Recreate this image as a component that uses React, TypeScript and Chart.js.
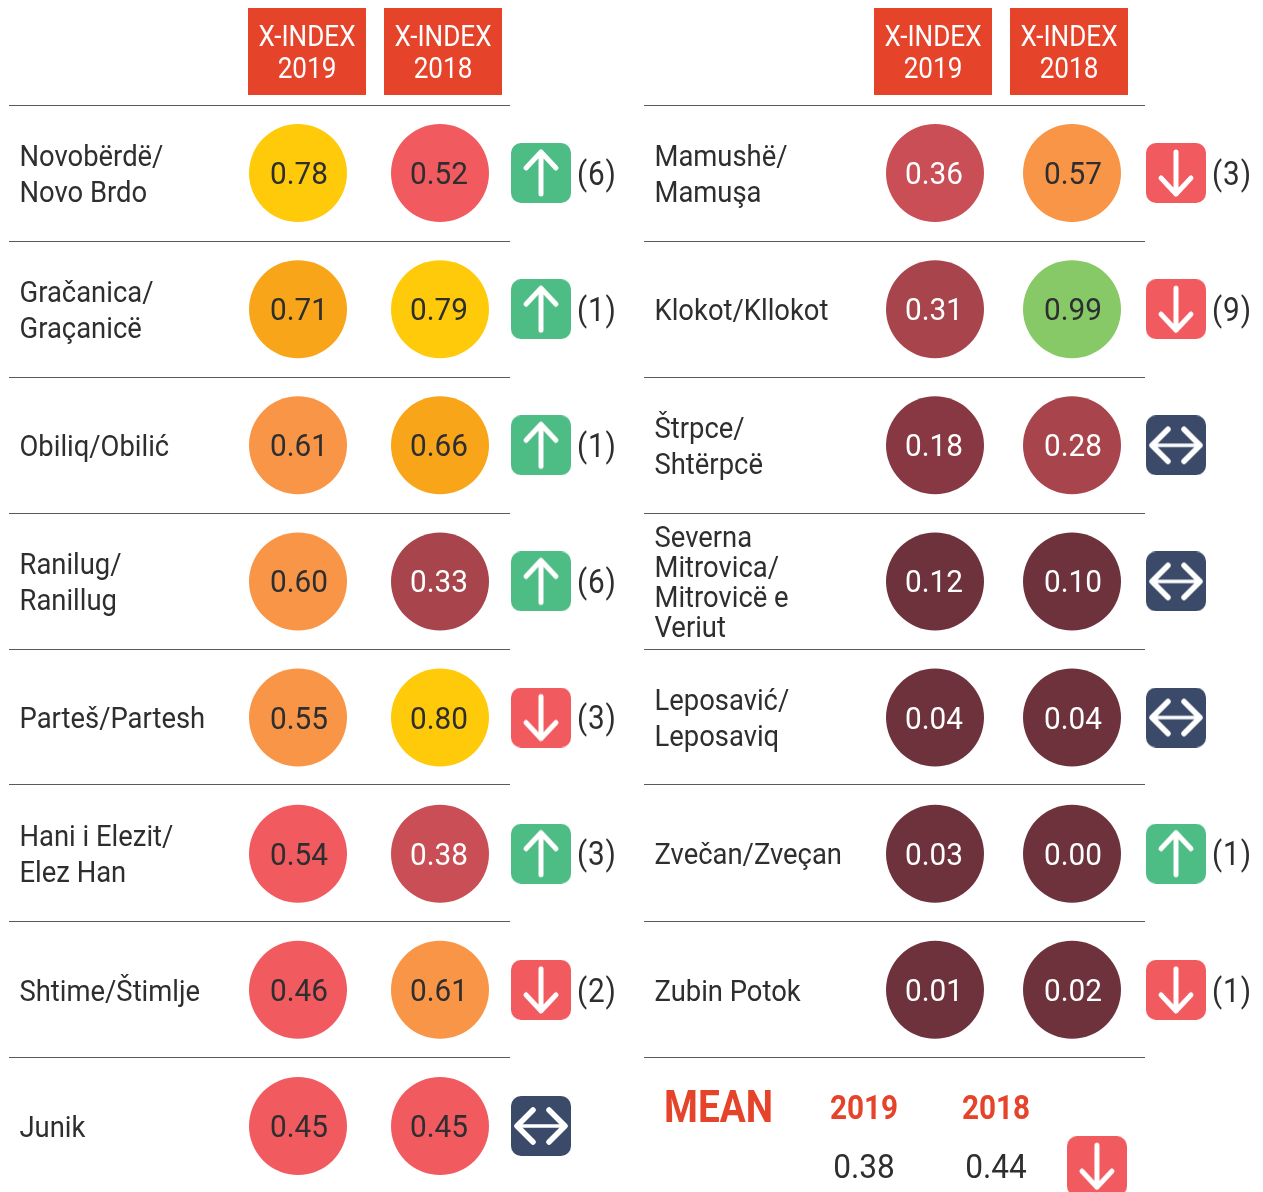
import React, { useEffect, useRef } from "react";
import { Chart, registerables } from "chart.js";

Chart.register(...registerables);

type Trend = "up" | "down" | "same";

const leftNames = [
  ["Novobërdë/", "Novo Brdo"],
  ["Gračanica/", "Graçanicë"],
  ["Obiliq/Obilić"],
  ["Ranilug/", "Ranillug"],
  ["Parteš/Partesh"],
  ["Hani i Elezit/", "Elez Han"],
  ["Shtime/Štimlje"],
  ["Junik"],
];
const left2019 = [0.78, 0.71, 0.61, 0.6, 0.55, 0.54, 0.46, 0.45];
const left2018 = [0.52, 0.79, 0.66, 0.33, 0.8, 0.38, 0.61, 0.45];
const leftTrend: Trend[] = ["up", "up", "up", "up", "down", "up", "down", "same"];
const leftRankChange = [6, 1, 1, 6, 3, 3, 2, null];

const rightNames = [
  ["Mamushë/", "Mamuşa"],
  ["Klokot/Kllokot"],
  ["Štrpce/", "Shtërpcë"],
  ["Severna", "Mitrovica/", "Mitrovicë e", "Veriut"],
  ["Leposavić/", "Leposaviq"],
  ["Zvečan/Zveçan"],
  ["Zubin Potok"],
];
const right2019 = [0.36, 0.31, 0.18, 0.12, 0.04, 0.03, 0.01];
const right2018 = [0.57, 0.99, 0.28, 0.1, 0.04, 0.0, 0.02];
const rightTrend: Trend[] = ["down", "down", "same", "same", "same", "up", "down"];
const rightRankChange = [3, 9, null, null, null, 1, 1];

const yearLabels = ["2019", "2018"];
const meanLabel = "MEAN";
const meanValues = [0.38, 0.44];
const meanTrend: Trend = "down";

const FONT = "Roboto, sans-serif";
const INK = "#2e2e30";
const RED = "#e5432a";

function colorFor(v: number): string {
  if (v >= 0.9) return "#87c966";
  if (v >= 0.75) return "#ffca0a";
  if (v >= 0.65) return "#f9a51a";
  if (v >= 0.55) return "#f99546";
  if (v >= 0.45) return "#f15a5e";
  if (v >= 0.35) return "#c94e55";
  if (v >= 0.25) return "#a8444c";
  if (v >= 0.15) return "#873843";
  return "#6e323c";
}

const trendColor: Record<Trend, string> = { up: "#4dbd85", down: "#f15a5e", same: "#3a4a68" };

function makeIcon(t: Trend): HTMLCanvasElement {
  const c = document.createElement("canvas");
  c.width = 60;
  c.height = 60;
  const g = c.getContext("2d")!;
  g.fillStyle = trendColor[t];
  g.beginPath();
  g.roundRect(0, 0, 60, 60, 10);
  g.fill();
  g.translate(30, 30);
  g.strokeStyle = "#ffffff";
  g.lineCap = "round";
  g.lineJoin = "round";
  if (t === "same") {
    g.lineWidth = 3.5;
    g.beginPath();
    g.moveTo(-22, 0);
    g.lineTo(22, 0);
    g.stroke();
    g.lineWidth = 5.5;
    g.beginPath();
    g.moveTo(-8, -16);
    g.lineTo(-24, 0);
    g.lineTo(-8, 16);
    g.moveTo(8, -16);
    g.lineTo(24, 0);
    g.lineTo(8, 16);
    g.stroke();
  } else {
    const s = t === "up" ? 1 : -1;
    g.lineWidth = 5;
    g.beginPath();
    g.moveTo(0, s * 21);
    g.lineTo(0, s * -21);
    g.moveTo(-15, s * -5);
    g.lineTo(0, s * -21);
    g.lineTo(15, s * -5);
    g.stroke();
  }
  return c;
}

function text(
  ctx: CanvasRenderingContext2D,
  s: string,
  x: number,
  y: number,
  font: string,
  color: string,
  align: CanvasTextAlign,
  hScale = 1,
  spacing = "0px"
) {
  ctx.save();
  ctx.translate(x, y);
  ctx.scale(hScale, 1);
  ctx.font = font;
  ctx.fillStyle = color;
  ctx.textAlign = align;
  ctx.textBaseline = "middle";
  (ctx as any).letterSpacing = spacing;
  ctx.fillText(s, 0, 0);
  ctx.restore();
}

interface PanelProps {
  left: number;
  width: number;
  colX: number;
  colStep: number;
  names: string[][];
  v2019: number[];
  v2018: number[];
  trend: Trend[];
  rankChange: (number | null)[];
  trendSlot: number;
  headerShift: number[];
  valueShift: number[];
  withMean?: boolean;
}

function Panel(p: PanelProps) {
  const ref = useRef<HTMLCanvasElement>(null);
  useEffect(() => {
    const ruleL = 9;
    const ruleR = 510;
    const rowH = 136.14;
    const row0 = 173;
    const rows = p.names.map((_, i) => i);
    const icons = p.trend.map(makeIcon);
    const meanSlots = [-0.518, 0.445];
    const meanIconSlot = 1.182;
    const meanIconRow = 7.295;

    const overlay = {
      id: "overlay",
      afterDatasetsDraw(chart: any) {
        const ctx: CanvasRenderingContext2D = chart.ctx;
        const xs = chart.scales.x;
        const ys = chart.scales.y;
        ctx.save();
        yearLabels.forEach((yr, c) => {
          const cx = xs.getPixelForValue(c) + p.headerShift[c];
          ctx.fillStyle = RED;
          ctx.fillRect(Math.round(cx - 59), 8, 118, 87);
          text(ctx, "X-INDEX", cx, 38, `400 30px ${FONT}`, "#ffffff", "center", 0.87);
          text(ctx, yr, cx, 70, `400 30px ${FONT}`, "#ffffff", "center", 0.87);
        });
        p.names.forEach((lines, r) => {
          const lh = lines.length > 2 ? 30 : 36;
          const cy = ys.getPixelForValue(r) + 3.5;
          lines.forEach((l, i) => {
            text(ctx, l, 19.5, cy + (i - (lines.length - 1) / 2) * lh, `400 29px ${FONT}`, INK, "left", 0.945);
          });
        });
        chart.data.datasets.slice(0, 2).forEach((ds: any) => {
          ds.data.forEach((pt: any) => {
            const val = pt.value as number;
            const col = val >= 0.4 ? INK : "#ffffff";
            text(
              ctx,
              val.toFixed(2),
              xs.getPixelForValue(pt.x) + p.valueShift[pt.x],
              ys.getPixelForValue(pt.y) + 3,
              `400 32px ${FONT}`,
              col,
              "center",
              0.93
            );
          });
        });
        p.rankChange.forEach((n, r) => {
          if (n == null) return;
          const x = xs.getPixelForValue(p.trendSlot) + 36;
          text(ctx, `(${n})`, x, ys.getPixelForValue(r) + 3.5, `400 33px ${FONT}`, INK, "left", 0.9, "1px");
        });
        if (p.withMean) {
          const my = ys.getPixelForValue(7);
          text(ctx, meanLabel, ruleL + 20, my - 15, `700 44px ${FONT}`, RED, "left", 0.88);
          yearLabels.forEach((yr, i) => {
            const x = xs.getPixelForValue(meanSlots[i]);
            text(ctx, yr, x, my - 15, `700 33px ${FONT}`, RED, "center", 0.9);
            text(ctx, meanValues[i].toFixed(2), x, my + 44, `400 34px ${FONT}`, INK, "center", 0.93);
          });
        }
        ctx.restore();
      },
    };

    const trendData = rows.map((r) => ({ x: p.trendSlot, y: r }));
    const trendStyles: HTMLCanvasElement[] = [...icons];
    if (p.withMean) {
      trendData.push({ x: meanIconSlot, y: meanIconRow });
      trendStyles.push(makeIcon(meanTrend));
    }

    const chart = new Chart(ref.current!, {
      type: "scatter",
      data: {
        datasets: [
          {
            label: "X-INDEX 2019",
            data: p.v2019.map((v, r) => ({ x: 0, y: r, value: v })) as any,
            pointRadius: 49,
            pointBorderWidth: 0,
            pointBackgroundColor: p.v2019.map(colorFor),
            clip: false as any,
          },
          {
            label: "X-INDEX 2018",
            data: p.v2018.map((v, r) => ({ x: 1, y: r, value: v })) as any,
            pointRadius: 49,
            pointBorderWidth: 0,
            pointBackgroundColor: p.v2018.map(colorFor),
            clip: false as any,
          },
          {
            type: "bubble",
            label: "Trend",
            data: trendData,
            pointStyle: trendStyles as any,
            radius: 90,
            borderWidth: 0,
            clip: false as any,
          },
        ],
      },
      options: {
        animation: false,
        responsive: false,
        events: [],
        layout: { autoPadding: false, padding: { left: ruleL, right: p.width - ruleR, top: 0, bottom: 0 } },
        plugins: { legend: { display: false }, tooltip: { enabled: false } },
        scales: {
          x: {
            type: "linear",
            display: false,
            min: (ruleL - p.colX) / p.colStep,
            max: (ruleR - p.colX) / p.colStep,
          },
          y: {
            type: "linear",
            reverse: true,
            position: "left",
            min: -row0 / rowH,
            max: (1192 - row0) / rowH,
            border: { display: false },
            ticks: { display: false },
            grid: { color: "#5a5a5a", lineWidth: 1, drawTicks: false },
            afterFit(s: any) {
              s.width = 0;
            },
            afterBuildTicks(s: any) {
              s.ticks = [0, 1, 2, 3, 4, 5, 6, 7].map((i) => ({ value: (105 + 136 * i - row0) / rowH }));
            },
          },
        },
      },
      plugins: [overlay],
    } as any);
    return () => chart.destroy();
  }, []);
  return (
    <canvas
      ref={ref}
      width={p.width}
      height={1192}
      style={{ position: "absolute", left: p.left, top: 0, display: "block" }}
    />
  );
}

export default function App() {
  return (
    <div style={{ position: "absolute", left: 0, top: 0, width: 1263, height: 1192, overflow: "hidden", background: "#fff" }}>
      <Panel
        left={0}
        width={635}
        colX={298}
        colStep={142}
        names={leftNames}
        v2019={left2019}
        v2018={left2018}
        trend={leftTrend}
        rankChange={leftRankChange}
        trendSlot={1.711}
        headerShift={[9, 3]}
        valueShift={[1, -1]}
      />
      <Panel
        left={635}
        width={628}
        colX={300}
        colStep={137}
        names={rightNames}
        v2019={right2019}
        v2018={right2018}
        trend={rightTrend}
        rankChange={rightRankChange}
        trendSlot={1.759}
        headerShift={[-2, -3]}
        valueShift={[-1, 1]}
        withMean
      />
    </div>
  );
}
